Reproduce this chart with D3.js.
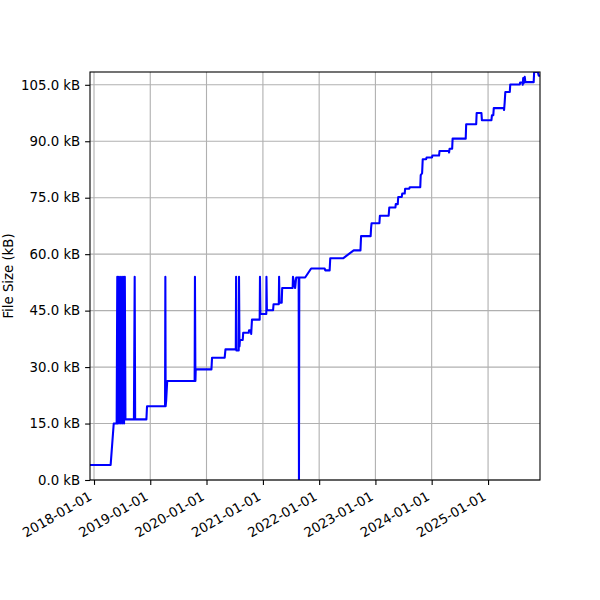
<!DOCTYPE html>
<html>
<head>
<meta charset="utf-8">
<script src="https://cdn.jsdelivr.net/npm/d3@7"></script>
<style>
  body { margin: 0; background: #fff; }
  text { font-family: "DejaVu Sans", sans-serif; }
</style>
</head>
<body>
<svg id="chart"></svg>
<script>
// commit dates and file size in kB
var dates = [
  "2017-12-06","2018-04-19","2018-05-09","2018-05-28",
  "2018-06-01","2018-06-06","2018-06-12","2018-06-19","2018-06-25","2018-07-02","2018-07-08","2018-07-15","2018-07-20","2018-07-24",
  "2018-09-17","2018-09-22","2018-09-25","2018-12-07","2018-12-11",
  "2019-04-07","2019-04-09","2019-04-11","2019-04-14","2019-04-21",
  "2019-10-16","2019-10-18","2019-10-21","2019-10-23",
  "2020-02-02","2020-02-06","2020-04-28","2020-05-03",
  "2020-07-09","2020-07-11","2020-07-13","2020-07-28","2020-07-30","2020-08-02","2020-08-05",
  "2020-08-23","2020-08-26","2020-10-01","2020-10-03","2020-10-14","2020-10-17","2020-10-22",
  "2020-12-11","2020-12-13","2020-12-16","2021-01-23","2021-01-24","2021-01-27",
  "2021-03-08","2021-03-11","2021-04-14","2021-04-16","2021-04-19","2021-05-03","2021-05-06",
  "2021-07-13","2021-07-15","2021-07-29","2021-08-05","2021-08-21","2021-08-23","2021-08-25",
  "2021-10-02","2021-11-10","2022-02-06","2022-02-09","2022-03-10","2022-03-14",
  "2022-06-05","2022-08-13","2022-09-26","2022-09-30","2022-12-01","2022-12-04","2022-12-07",
  "2023-01-27","2023-01-30","2023-03-28","2023-04-01","2023-05-11","2023-05-13","2023-05-26","2023-05-29",
  "2023-06-21","2023-06-24","2023-07-10","2023-07-13","2023-08-09","2023-08-12",
  "2023-10-19","2023-10-22","2023-10-31","2023-11-04","2023-11-26","2023-11-29",
  "2024-01-03","2024-01-06","2024-02-18","2024-02-21","2024-04-21","2024-04-23","2024-04-26",
  "2024-05-13","2024-05-16","2024-08-09","2024-08-12","2024-10-16","2024-10-19","2024-11-19","2024-11-22",
  "2025-01-23","2025-01-26","2025-02-04","2025-02-07","2025-04-13","2025-04-15","2025-04-19","2025-04-23",
  "2025-05-22","2025-05-25","2025-07-26","2025-07-28","2025-08-12","2025-08-14","2025-08-17","2025-08-22",
  "2025-08-27","2025-08-31","2025-10-24","2025-10-27","2025-11-20","2025-11-26","2025-12-04"
];
var sizes = [
  4.0, 4.0, 15.0, 15.0,
  54, 15, 54, 15, 54, 15, 54, 15, 54, 16.1,
  16.1, 54, 16.1, 16.1, 19.6,
  19.6, 54, 19.6, 21.0, 26.3,
  26.3, 54, 26.3, 29.4,
  29.4, 32.5, 32.5, 34.7,
  34.7, 54, 34.4, 34.4, 54, 35.5, 37.2,
  37.2, 39.1, 39.1, 39.8, 39.8, 38.8, 42.6,
  42.6, 54, 44.1, 44.1, 54, 45.1,
  45.1, 46.7, 46.7, 54, 47.1, 47.1, 51.0,
  51.0, 54, 51.0, 53.8, 53.8, 0, 53.8,
  53.8, 56.2, 56.2, 55.7, 55.7, 58.9,
  58.9, 61.0, 61.0, 64.8, 64.8, 67.0, 68.2,
  68.2, 70.2, 70.2, 72.4, 72.4, 73.3, 73.3, 75.2,
  75.2, 76.1, 76.1, 77.4, 77.4, 77.8,
  77.8, 81.0, 81.5, 85.2, 85.2, 85.7,
  85.7, 86.2, 86.2, 87.4, 87.4, 87.0, 88.0,
  88.0, 90.7, 90.7, 94.5, 94.5, 97.5, 97.5, 95.6,
  95.6, 96.9, 96.9, 98.8, 98.8, 98.3, 100.4, 103.1,
  103.1, 105.1, 105.1, 105.6, 105.6, 105.0, 106.8, 105.5,
  107.1, 105.7, 105.7, 108.4, 108.4, 107.4, 107.4
];
var yTicks = [0, 15, 30, 45, 60, 75, 90, 105];
var xTickDates = ["2018-01-01","2019-01-01","2020-01-01","2021-01-01","2022-01-01","2023-01-01","2024-01-01","2025-01-01"];

var margin = {top: 72, right: 60, bottom: 120, left: 90};
var width = 600 - margin.left - margin.right;
var height = 600 - margin.top - margin.bottom;
var fontSize = "13.3px";
var parse = d3.timeParse("%Y-%m-%d");

var data = dates.map(function(d, i) { return {date: parse(d), size: sizes[i]}; });

var svg = d3.select("#chart")
  .attr("width", 600)
  .attr("height", 600)
  .append("g")
    .attr("transform", "translate(" + margin.left + "," + margin.top + ")");

var x = d3.scaleTime()
  .domain(d3.extent(data, function(d) { return d.date; }))
  .range([0, width]);
var y = d3.scaleLinear()
  .domain([0, d3.max(sizes)])
  .range([height, 0]);

// grid
svg.append("g")
  .selectAll("line")
  .data(xTickDates.map(parse))
  .enter().append("line")
    .attr("x1", function(d) { return x(d); })
    .attr("x2", function(d) { return x(d); })
    .attr("y1", 0)
    .attr("y2", height)
    .attr("stroke", "#b0b0b0")
    .attr("stroke-width", 1.1);
svg.append("g")
  .selectAll("line")
  .data(yTicks)
  .enter().append("line")
    .attr("x1", 0)
    .attr("x2", width)
    .attr("y1", function(d) { return y(d); })
    .attr("y2", function(d) { return y(d); })
    .attr("stroke", "#b0b0b0")
    .attr("stroke-width", 1.1);

svg.append("clipPath")
    .attr("id", "clip")
  .append("rect")
    .attr("width", width)
    .attr("height", height);

var line = d3.line()
  .x(function(d) { return x(d.date); })
  .y(function(d) { return y(d.size); });

svg.append("path")
  .datum(data)
  .attr("clip-path", "url(#clip)")
  .attr("fill", "none")
  .attr("stroke", "#0000ff")
  .attr("stroke-width", 2.08)
  .attr("stroke-linejoin", "round")
  .attr("d", line);

// frame
svg.append("rect")
  .attr("width", width)
  .attr("height", height)
  .attr("fill", "none")
  .attr("stroke", "#000")
  .attr("stroke-width", 1.1);

var xAxis = svg.append("g")
  .attr("transform", "translate(0," + height + ")")
  .call(d3.axisBottom(x)
    .tickValues(xTickDates.map(parse))
    .tickFormat(d3.timeFormat("%Y-%m-%d"))
    .tickSize(4.9)
    .tickPadding(4.9));
xAxis.select(".domain").remove();
xAxis.selectAll("line").attr("stroke-width", 1.1);
xAxis.selectAll("text")
  .attr("font-size", fontSize)
  .attr("font-family", "DejaVu Sans")
  .attr("text-anchor", "end")
  .attr("dy", null)
  .attr("y", null)
  .attr("transform", "translate(-1.6,19) rotate(-30)");

var yAxis = svg.append("g")
  .call(d3.axisLeft(y)
    .tickValues(yTicks)
    .tickFormat(function(d) { return d3.format(".1f")(d) + " kB"; })
    .tickSize(4.9)
    .tickPadding(4.9));
yAxis.select(".domain").remove();
yAxis.selectAll("line").attr("stroke-width", 1.1);
yAxis.selectAll("text")
  .attr("font-size", fontSize)
  .attr("font-family", "DejaVu Sans");

svg.append("text")
  .attr("transform", "translate(" + (13 - margin.left) + "," + (height / 2) + ") rotate(-90)")
  .attr("text-anchor", "middle")
  .attr("font-size", fontSize)
  .text("File Size (kB)");
</script>
</body>
</html>
